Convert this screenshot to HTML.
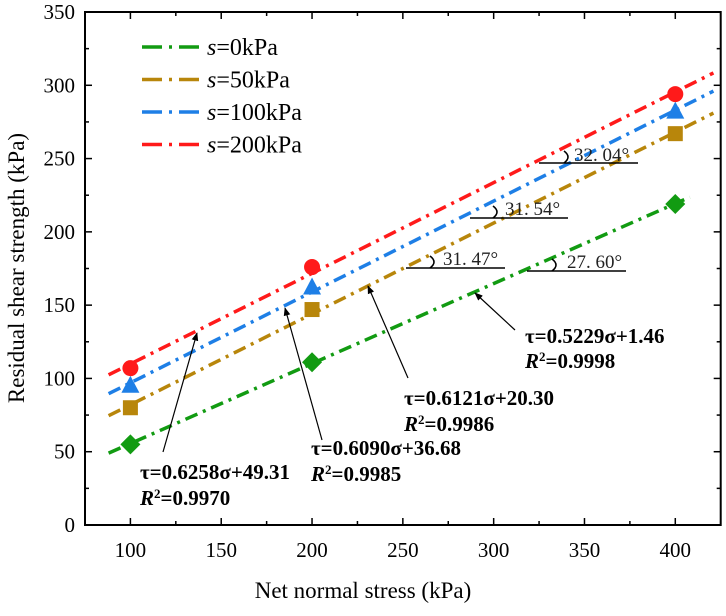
<!DOCTYPE html>
<html><head><meta charset="utf-8"><style>
body{margin:0;background:#fff}
svg text{font-family:"Liberation Serif",serif}
</style></head><body>
<svg id="chart" width="726" height="611" viewBox="0 0 726 611" xmlns="http://www.w3.org/2000/svg">
<defs><marker id="ah" viewBox="0 0 10 10" refX="9" refY="5" markerWidth="7" markerHeight="7" orient="auto"><path d="M0,1 L10,5 L0,9 z" fill="#000"/></marker></defs>
<g id="axes"></g>
<g id="series"></g>
<g id="annot" font-size="21" font-weight="bold" fill="#000">
<text x="525" y="343">τ=0.5229σ+1.46</text>
<text x="525" y="368"><tspan font-style="italic">R</tspan><tspan baseline-shift="super" font-size="13">2</tspan>=0.9998</text>
<text x="404" y="405">τ=0.6121σ+20.30</text>
<text x="404" y="431"><tspan font-style="italic">R</tspan><tspan baseline-shift="super" font-size="13">2</tspan>=0.9986</text>
<text x="311" y="455">τ=0.6090σ+36.68</text>
<text x="311" y="481"><tspan font-style="italic">R</tspan><tspan baseline-shift="super" font-size="13">2</tspan>=0.9985</text>
<text x="140" y="479">τ=0.6258σ+49.31</text>
<text x="140" y="505"><tspan font-style="italic">R</tspan><tspan baseline-shift="super" font-size="13">2</tspan>=0.9970</text>
</g>
<g stroke="#000" stroke-width="1.2" marker-end="url(#ah)">
<line x1="515" y1="330" x2="475" y2="293"/>
<line x1="408" y1="378" x2="368" y2="286"/>
<line x1="322" y1="440" x2="285" y2="308"/>
<line x1="163" y1="452" x2="197" y2="333"/>
</g>
<g font-size="19" fill="#222" stroke-width="1.6">
<g><line x1="539" y1="163" x2="638" y2="163" stroke="#000"/><path d="M564,151 q8,6 0,12" fill="none" stroke="#000"/><text x="574" y="161">32. 04°</text></g>
<g><line x1="470" y1="218" x2="568" y2="218" stroke="#000"/><path d="M493,206 q8,6 0,12" fill="none" stroke="#000"/><text x="505" y="215">31. 54°</text></g>
<g><line x1="406" y1="268" x2="505" y2="268" stroke="#000"/><path d="M430,256 q8,6 0,12" fill="none" stroke="#000"/><text x="443" y="265">31. 47°</text></g>
<g><line x1="527" y1="271" x2="626" y2="271" stroke="#000"/><path d="M552,259 q8,6 0,12" fill="none" stroke="#000"/><text x="567" y="268">27. 60°</text></g>
</g>
<g id="legend"></g>
<text x="363" y="598" font-size="23" text-anchor="middle">Net normal stress (kPa)</text>
<text transform="translate(24,268) rotate(-90)" font-size="23" text-anchor="middle">Residual shear strength (kPa)</text>
</svg>
<script>
const xTicks=[100,150,200,250,300,350,400];
const yTicks=[0,50,100,150,200,250,300,350];
const stress=[100,200,400];
const seriesNames=["s=0kPa","s=50kPa","s=100kPa","s=200kPa"];
const s0=[55,111,219];
const s50=[80,147,267];
const s100=[95,162,282];
const s200=[107,176,294];
const fitStart=[88,88,88,88];
const fitEnds=[408,421,421,421];
const colors=["#129b12","#b8860b","#1e7fe6","#ff1a1a"];
const L=85,R=720.7,T=12,B=525;
const X=v=>L+(v-75)/350*(R-L);
const Y=v=>B-v/350*(B-T);
const NS="http://www.w3.org/2000/svg";
function mk(tag,attrs,parent){const e=document.createElementNS(NS,tag);for(const k in attrs)e.setAttribute(k,attrs[k]);parent.appendChild(e);return e;}
function fit(xs,ys){const n=xs.length;const mx=xs.reduce((a,b)=>a+b)/n,my=ys.reduce((a,b)=>a+b)/n;let sxy=0,sxx=0;for(let i=0;i<n;i++){sxy+=(xs[i]-mx)*(ys[i]-my);sxx+=(xs[i]-mx)**2;}const k=sxy/sxx;return [k,my-k*mx];}
const ax=document.getElementById('axes');
const frame=mk('rect',{x:L,y:T,width:R-L,height:B-T,fill:'none',stroke:'#000','stroke-width':2},ax);


for(let v=75;v<=425;v+=25){const x=X(v);const len=(v%50===0)?7:4;
mk('line',{x1:x,y1:B,x2:x,y2:B-len,stroke:'#000','stroke-width':1.5},ax);
mk('line',{x1:x,y1:T,x2:x,y2:T+len,stroke:'#000','stroke-width':1.5},ax);}
xTicks.forEach(v=>{const t=mk('text',{x:X(v),y:B+32,'font-size':21,'text-anchor':'middle'},ax);t.textContent=v;

});
for(let v=0;v<=350;v+=25){const y=Y(v);const len=(v%50===0)?7:4;
mk('line',{x1:L,y1:y,x2:L+len,y2:y,stroke:'#000','stroke-width':1.5},ax);
mk('line',{x1:R,y1:y,x2:R-len,y2:y,stroke:'#000','stroke-width':1.5},ax);}
yTicks.forEach(v=>{const t=mk('text',{x:L-10,y:Y(v)+7,'font-size':21,'text-anchor':'end'},ax);t.textContent=v;

});
const sg=document.getElementById('series');
const data=[s0,s50,s100,s200];
data.forEach((vals,i)=>{
 const [k,b]=fit(stress,vals);
 const x1=fitStart[i],x2=fitEnds[i];
 const ln=mk('line',{x1:X(x1),y1:Y(k*x1+b),x2:X(x2),y2:Y(k*x2+b),stroke:colors[i],'stroke-width':3.5,'stroke-dasharray':'13,6,3,6'},sg);
 
 
 vals.forEach((v,j)=>{const cx=X(stress[j]),cy=Y(v);let m;
  if(i===0)m=mk('polygon',{points:`${cx},${cy-10} ${cx+10},${cy} ${cx},${cy+10} ${cx-10},${cy}`,fill:colors[i]},sg);
  else if(i===1)m=mk('rect',{x:cx-7.5,y:cy-7.5,width:15,height:15,fill:colors[i]},sg);
  else if(i===2)m=mk('polygon',{points:`${cx},${cy-10} ${cx+9},${cy+7} ${cx-9},${cy+7}`,fill:colors[i]},sg);
  else m=mk('circle',{cx:cx,cy:cy,r:8,fill:colors[i]},sg);
  
  });
});
const lg=document.getElementById('legend');
seriesNames.forEach((n,i)=>{const y=47+i*32.5;
 const l=mk('line',{x1:142,y1:y,x2:203,y2:y,stroke:colors[i],'stroke-width':3.5,'stroke-dasharray':'20,7,3,7'},lg);
 
 
 const t=mk('text',{x:207,y:y+8,'font-size':24},lg);
 t.innerHTML='<tspan font-style="italic">s</tspan>'+n.slice(1);
 
 });
</script>
</body></html>
